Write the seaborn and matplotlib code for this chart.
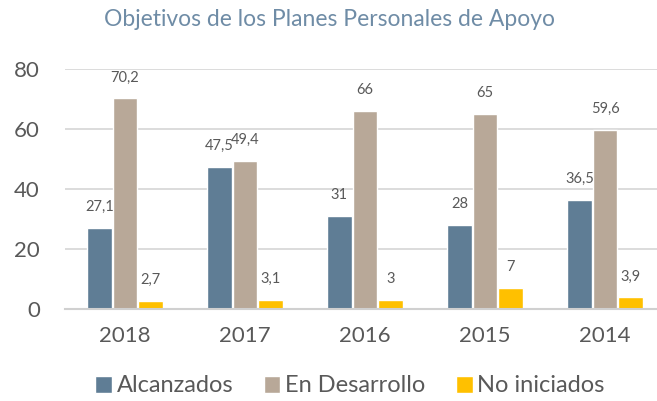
import pandas as pd
import matplotlib.pyplot as plt
import seaborn as sns

years = ['2018', '2017', '2016', '2015', '2014']
alcanzados = [27.1, 47.5, 31, 28, 36.5]
en_desarrollo = [70.2, 49.4, 66, 65, 59.6]
no_iniciados = [2.7, 3.1, 3, 7, 3.9]
series = ['Alcanzados', 'En Desarrollo', 'No iniciados']
colores = ['#5f7d95', '#b8a898', '#ffc000']

df = pd.DataFrame({
    'year': years * 3,
    'serie': [s for s in series for _ in years],
    'valor': alcanzados + en_desarrollo + no_iniciados,
})

sns.set_style('white')
plt.rcParams['font.family'] = ['Lato', 'DejaVu Sans']
texto = '#595959'

fig = plt.figure(figsize=(6.57, 4.01), dpi=100)
ax = fig.add_axes([65 / 657, 1 - 309 / 401, 592 / 657, 240 / 401])

sns.barplot(data=df, x='year', y='valor', hue='serie', hue_order=series,
            palette=colores, saturation=1, width=0.64, gap=0.05, ax=ax)

# etiquetas con coma decimal
for cont in ax.containers:
    etiquetas = [('%g' % b.get_height()).replace('.', ',') for b in cont]
    ax.bar_label(cont, labels=etiquetas, padding=10, fontsize=10.5,
                 color=texto, clip_on=False)

ax.set_ylim(0, 80)
ax.set_yticks([0, 20, 40, 60, 80])
ax.set_xlim(-0.5, -0.5 + 592 / 120)
ax.grid(axis='y', color='#d9d9d9', linewidth=1.3)
ax.set_axisbelow(True)
for s in ['top', 'right', 'left']:
    ax.spines[s].set_visible(False)
ax.spines['bottom'].set_color('#d0d0d0')
ax.spines['bottom'].set_linewidth(1.5)
ax.tick_params(axis='both', length=0, labelsize=16, labelcolor=texto, pad=12)
ax.tick_params(axis='y', pad=18)
ax.set_xlabel('')
ax.set_ylabel('')

fig.text(330 / 657, 1 - 20 / 401, 'Objetivos de los Planes Personales de Apoyo',
         ha='center', va='center', fontsize=16.5, color='#6f8ca6')

handles, labels = ax.get_legend_handles_labels()
ax.legend(handles, labels, loc='center', bbox_to_anchor=(350 / 657, 1 - 386 / 401),
          bbox_transform=fig.transFigure, ncol=3, frameon=False,
          prop={'size': 17}, labelcolor=texto,
          handlelength=0.7, handleheight=0.7, handletextpad=0.2, columnspacing=1.3)

fig.savefig('out.png', dpi=100)
